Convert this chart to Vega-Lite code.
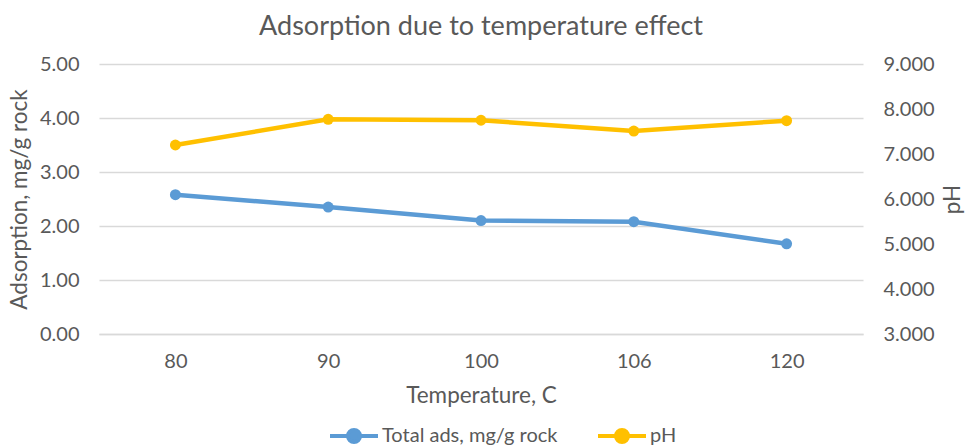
{
  "$schema": "https://vega.github.io/schema/vega-lite/v6.json",
  "autosize": {"type": "none"},
  "width": 764,
  "height": 270,
  "padding": {"left": 99, "top": 64, "right": 104, "bottom": 113},
  "background": "white",
  "config": {
    "font": "Lato",
    "view": {"stroke": null},
    "axis": {"labelColor": "#595959", "titleColor": "#595959", "labelFontSize": 20, "titleFontSize": 22.5, "titleFontWeight": "normal", "ticks": false, "domain": false, "gridColor": "#d9d9d9", "gridWidth": 1.3},
    "legend": {"labelColor": "#595959", "labelFontSize": 20, "labelLimit": 400}
  },
  "title": {"text": "Adsorption due to temperature effect", "fontSize": 27, "fontWeight": "normal", "color": "#595959", "anchor": "middle", "offset": 13},
  "data": {
    "values": [
      {"Temperature": "80", "series": "Total ads, mg/g rock", "value": 2.58},
      {"Temperature": "90", "series": "Total ads, mg/g rock", "value": 2.35},
      {"Temperature": "100", "series": "Total ads, mg/g rock", "value": 2.10},
      {"Temperature": "106", "series": "Total ads, mg/g rock", "value": 2.08},
      {"Temperature": "120", "series": "Total ads, mg/g rock", "value": 1.67},
      {"Temperature": "80", "series": "pH", "value": 7.20},
      {"Temperature": "90", "series": "pH", "value": 7.77},
      {"Temperature": "100", "series": "pH", "value": 7.75},
      {"Temperature": "106", "series": "pH", "value": 7.51},
      {"Temperature": "120", "series": "pH", "value": 7.74}
    ]
  },
  "encoding": {
    "x": {
      "field": "Temperature", "type": "ordinal",
      "sort": ["80", "90", "100", "106", "120"],
      "scale": {"type": "point", "padding": 0.5},
      "axis": {"title": "Temperature, C", "labelAngle": 0, "labelPadding": 17, "titlePadding": 13, "grid": false, "domain": true, "domainColor": "#d9d9d9", "domainWidth": 1.3}
    },
    "color": {
      "field": "series", "type": "nominal",
      "scale": {"domain": ["Total ads, mg/g rock", "pH"], "range": ["#5B9BD5", "#FFC000"]},
      "legend": {
        "title": null, "orient": "none", "direction": "horizontal",
        "legendX": 241, "legendY": 358,
        "symbolType": "M-2,0H-0.5A0.5,0.5 0 1 1 0.5,0A0.5,0.5 0 1 1 -0.5,0M0.5,0H2",
        "symbolSize": 576, "symbolStrokeWidth": 4, "symbolFillColor": null,
        "labelOffset": 14, "columnPadding": 32
      }
    }
  },
  "layer": [
    {
      "transform": [{"filter": "datum.series === 'Total ads, mg/g rock'"}],
      "mark": {"type": "line", "strokeWidth": 4.5, "point": {"size": 120, "filled": true}},
      "encoding": {
        "y": {"field": "value", "type": "quantitative", "scale": {"domain": [0, 5], "nice": false},
          "axis": {"title": "Adsorption, mg/g rock", "orient": "left", "values": [0, 1, 2, 3, 4, 5], "format": ".2f", "labelPadding": 20, "titlePadding": 8}}
      }
    },
    {
      "transform": [{"filter": "datum.series === 'pH'"}],
      "mark": {"type": "line", "strokeWidth": 4.5, "point": {"size": 120, "filled": true}},
      "encoding": {
        "y": {"field": "value", "type": "quantitative", "scale": {"domain": [3, 9], "nice": false},
          "axis": {"title": "pH", "orient": "right", "values": [3, 4, 5, 6, 7, 8, 9], "format": ".3f", "grid": false, "labelPadding": 20, "titlePadding": 7, "titleAngle": 270, "titleBaseline": "top"}}
      }
    }
  ],
  "resolve": {"scale": {"y": "independent"}}
}
